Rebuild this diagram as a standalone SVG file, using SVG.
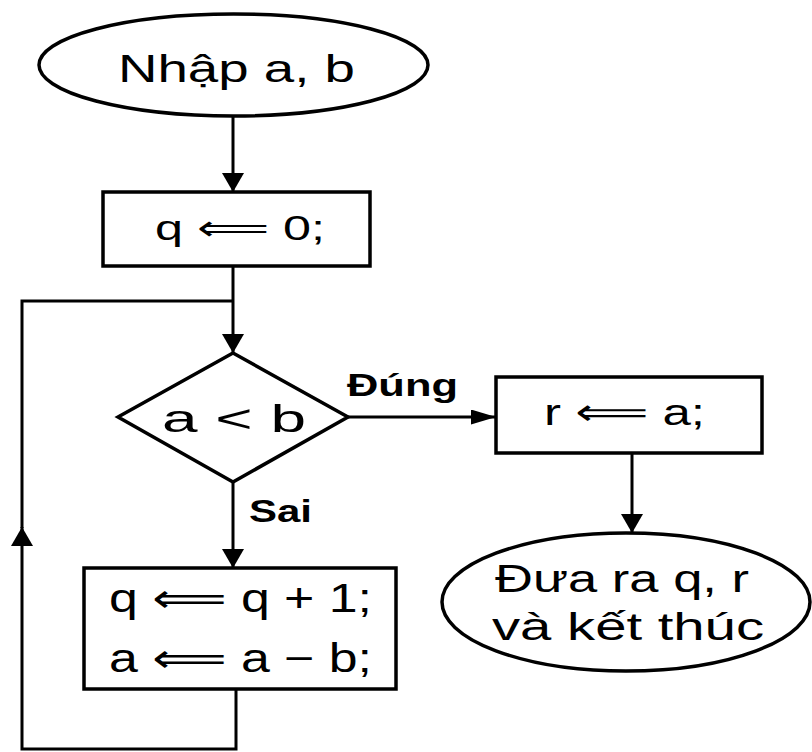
<svg xmlns="http://www.w3.org/2000/svg" width="812" height="752" viewBox="0 0 812 752">
<defs>
<style>
.shape{fill:#fff;stroke:#000;stroke-width:3.5}
.conn{fill:none;stroke:#000;stroke-width:3}
.t{font-family:"Liberation Sans","DejaVu Sans",Arial,sans-serif;fill:#000}
.lbl{font-family:"Liberation Sans","DejaVu Sans",Arial,sans-serif;font-weight:bold;fill:#000}
</style>
<marker id="av" markerWidth="19" markerHeight="22" refX="19" refY="11" orient="auto" markerUnits="userSpaceOnUse" viewBox="0 0 19 22"><path d="M0,0 L19,11 L0,22 Z" fill="#000"/></marker>
<marker id="ah" markerWidth="25" markerHeight="15" refX="25" refY="7.5" orient="auto" markerUnits="userSpaceOnUse" viewBox="0 0 25 15"><path d="M0,0 L25,7.5 L0,15 Z" fill="#000"/></marker>
</defs>
<rect width="812" height="752" fill="#fff"/>
<g id="connectors">
<path class="conn" d="M233,116 V192" marker-end="url(#av)"/>
<path class="conn" d="M233,266 V353" marker-end="url(#av)"/>
<path class="conn" d="M348,417 H496" marker-end="url(#ah)"/>
<path class="conn" d="M632,453 V533" marker-end="url(#av)"/>
<path class="conn" d="M233,482 V568" marker-end="url(#av)"/>
<path class="conn" d="M236,689 V749 H22 V527" marker-end="url(#av)"/>
<path class="conn" d="M22,528 V301 H233"/>
</g>
<g id="start">
<ellipse class="shape" cx="233.5" cy="65" rx="194.5" ry="51"/>
<text class="t" x="118" y="82" font-size="38" textLength="237" lengthAdjust="spacingAndGlyphs">Nhập a, b</text>
</g>
<g id="init">
<rect class="shape" x="103" y="192" width="267" height="74"/>
<text class="t" x="155" y="240" font-size="35" textLength="170" lengthAdjust="spacingAndGlyphs">q ⟸ 0;</text>
</g>
<g id="decision">
<polygon class="shape" points="233,353 348,417 233,482 118,417"/>
<text class="t" x="162" y="432" font-size="38" textLength="144" lengthAdjust="spacingAndGlyphs">a &lt; b</text>
</g>
<g id="assign-r">
<rect class="shape" x="496" y="377" width="266" height="76"/>
<text class="t" x="544" y="425" font-size="37" textLength="161" lengthAdjust="spacingAndGlyphs">r ⟸ a;</text>
</g>
<g id="end">
<ellipse class="shape" cx="626" cy="602" rx="184" ry="69"/>
<text class="t" x="495" y="592" font-size="38" textLength="254" lengthAdjust="spacingAndGlyphs">Đưa ra q, r</text>
<text class="t" x="492" y="640" font-size="38" textLength="272" lengthAdjust="spacingAndGlyphs">và kết thúc</text>
</g>
<g id="loop-body">
<rect class="shape" x="84" y="568" width="312" height="121"/>
<text class="t" x="109" y="612" font-size="40" textLength="263" lengthAdjust="spacingAndGlyphs">q ⟸ q + 1;</text>
<text class="t" x="109" y="672" font-size="40" textLength="263" lengthAdjust="spacingAndGlyphs">a ⟸ a − b;</text>
</g>
<g id="labels">
<text class="lbl" x="347" y="396" font-size="31" textLength="111" lengthAdjust="spacingAndGlyphs">Đúng</text>
<text class="lbl" x="249" y="522" font-size="31" textLength="63" lengthAdjust="spacingAndGlyphs">Sai</text>
</g>
</svg>
